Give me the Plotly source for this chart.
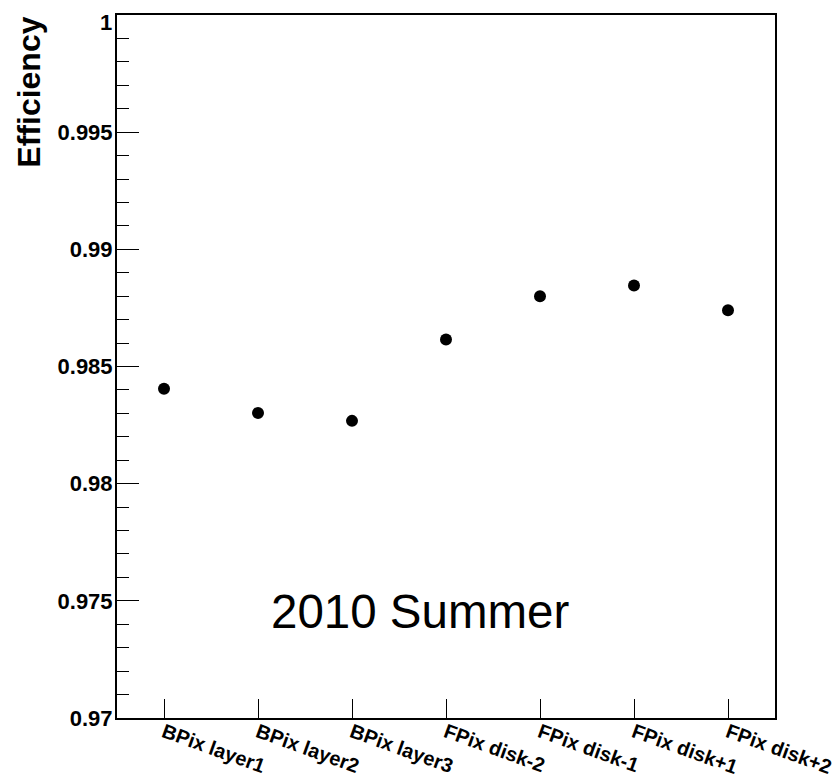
import plotly.graph_objects as go

categories = ["BPix layer1", "BPix layer2", "BPix layer3", "FPix disk-2",
              "FPix disk-1", "FPix disk+1", "FPix disk+2"]
efficiency = [0.98405, 0.98302, 0.98268, 0.98615, 0.98800, 0.98846, 0.98740]
ytick_vals = [0.97, 0.975, 0.98, 0.985, 0.99, 0.995, 1.0]
ytick_text = ["0.97", "0.975", "0.98", "0.985", "0.99", "0.995", "1"]

fig = go.Figure()
fig.add_trace(go.Scatter(
    x=categories, y=efficiency, mode="markers",
    marker=dict(symbol="circle", size=12, color="black"),
    showlegend=False, hoverinfo="skip"))

# the top label ("1") sits just below its tick in the reference; draw it separately
axis_text = ytick_text[:-1] + [""]

fig.update_layout(
    width=840, height=780,
    margin=dict(l=109, r=73, t=7, b=70),
    plot_bgcolor="white", paper_bgcolor="white",
    font=dict(family="Liberation Sans", color="black"),
    xaxis=dict(
        type="category", range=[-0.5, 6.5], automargin=False,
        showgrid=False, zeroline=False,
        showline=True, linecolor="black", linewidth=2, mirror=True,
        ticks="inside", ticklen=19, tickwidth=1, tickcolor="black",
        tickangle=20, ticklabeloverflow="allow", ticklabelstandoff=-7,
        tickfont=dict(family="Liberation Sans", size=20, color="black", weight="bold"),
    ),
    yaxis=dict(
        range=[0.97, 1.0], automargin=False,
        tickvals=ytick_vals, ticktext=axis_text,
        showgrid=False, zeroline=False,
        showline=True, linecolor="black", linewidth=2, mirror=True,
        ticks="inside", ticklen=22, tickwidth=1, tickcolor="black",
        minor=dict(dtick=0.001, ticks="inside", ticklen=12, tickwidth=1,
                   tickcolor="black", showgrid=False),
        tickfont=dict(family="Liberation Sans", size=22, color="black", weight="bold"),
        ticklabelstandoff=-2, ticklabeloverflow="allow",
    ),
)

fig.add_annotation(
    text=ytick_text[-1],
    xref="paper", yref="y", x=0, y=ytick_vals[-1],
    xanchor="right", yanchor="top", xshift=-3, yshift=7, showarrow=False,
    font=dict(family="Liberation Sans", size=22, color="black", weight="bold"))

fig.add_annotation(
    text="Efficiency", textangle=-90,
    xref="paper", yref="paper", x=-0.135, y=1.0,
    xanchor="center", yanchor="top", showarrow=False,
    font=dict(family="Liberation Sans", size=32, color="black", weight="bold"))

fig.add_annotation(
    text="2010 Summer",
    xref="paper", yref="paper", x=0.462, y=0.151,
    xanchor="center", yanchor="middle", showarrow=False,
    font=dict(family="Liberation Sans", size=47.5, color="black"))

fig.write_html("out.html")
